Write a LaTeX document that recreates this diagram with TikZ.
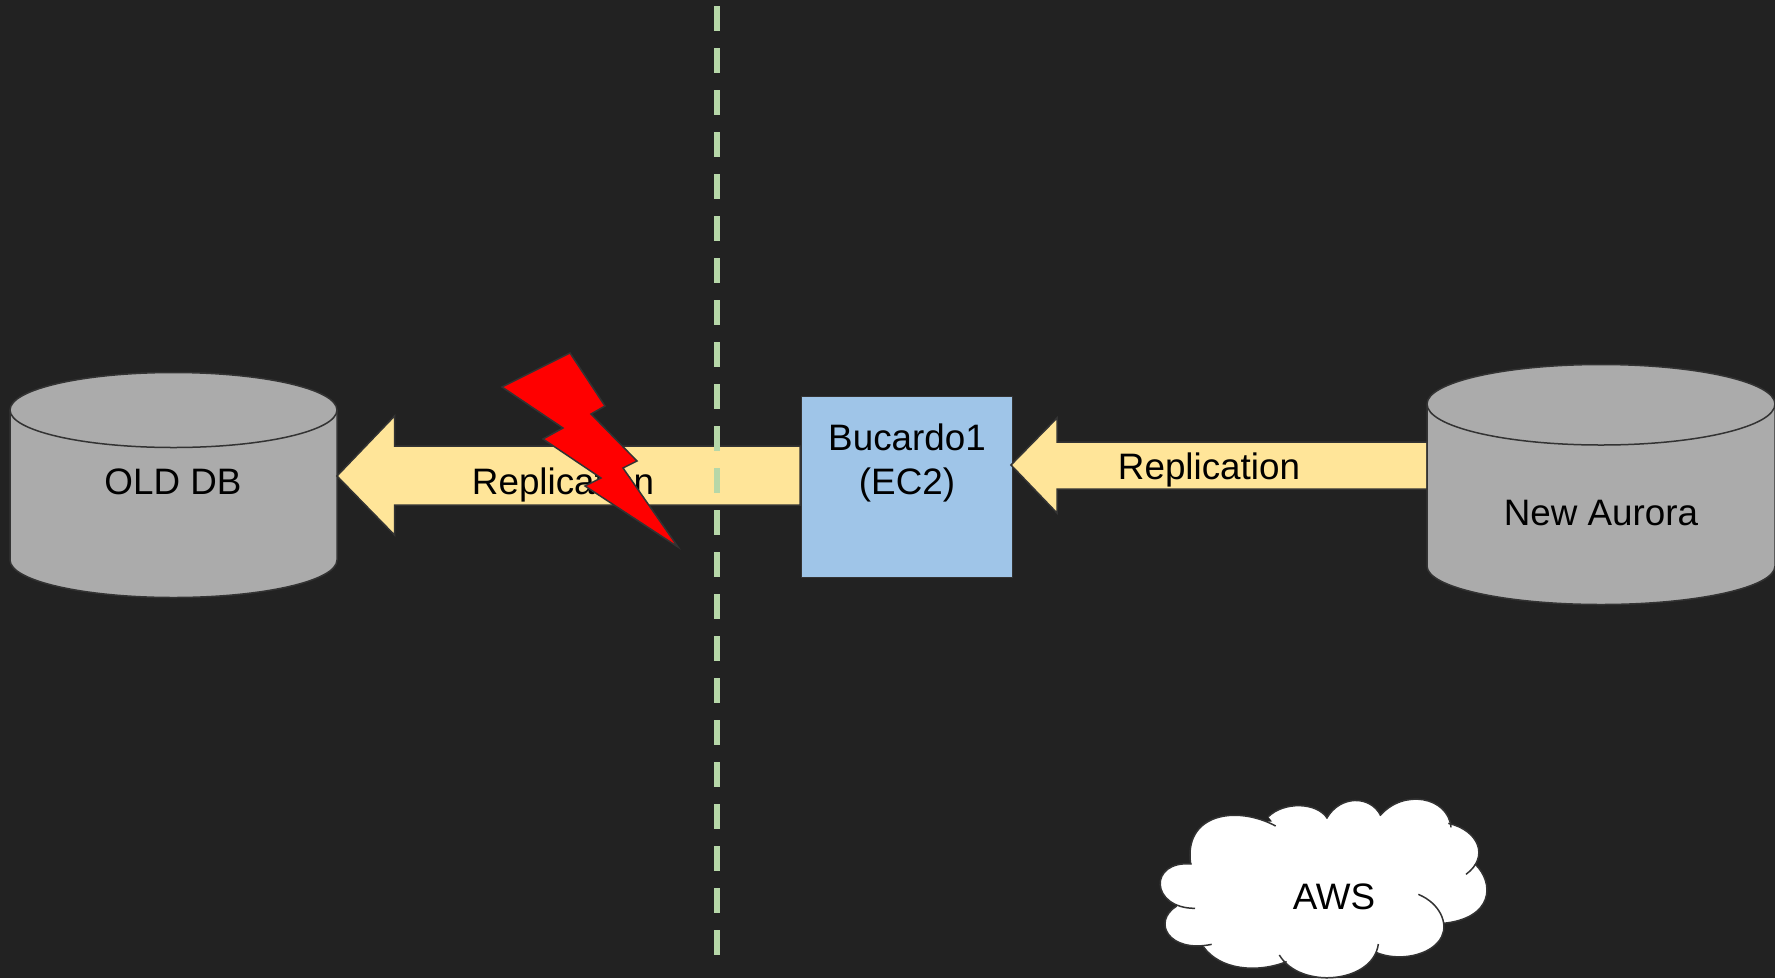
\documentclass[tikz,border=0pt]{standalone}
\usepackage{fontspec}
\setmainfont{Liberation Sans}
\definecolor{bgc}{HTML}{222222}
\definecolor{edgec}{HTML}{333333}
\definecolor{cylc}{HTML}{ABABAB}
\definecolor{arrc}{HTML}{FFE599}
\definecolor{boxc}{HTML}{9FC5E8}
\definecolor{dashc}{HTML}{B6D7A8}
\newcommand\cloudlobes{%
\lobe{(152,252) .. controls (130,100) and (290,75) .. (407,138)}%
\lobe{(385,110) .. controls (430,65) and (530,65) .. (562,115)}%
\lobe{(560,115) .. controls (600,45) and (690,45) .. (722,106)}%
\lobe{(720,107) .. controls (790,25) and (925,50) .. (933,142)}%
\lobe{(925,130) .. controls (1015,150) and (1050,230) .. (978,283)}%
\lobe{(1005,252) .. controls (1065,310) and (1060,415) .. (910,430)}%
\lobe{(835,343) .. controls (900,370) and (925,430) .. (905,470) .. controls (875,530) and (770,545) .. (708,517)}%
\lobe{(715,492) .. controls (700,610) and (480,630) .. (418,525)}%
\lobe{(440,545) .. controls (350,580) and (240,570) .. (190,500)}%
\lobe{(215,493) .. controls (85,520) and (35,425) .. (110,378)}%
\lobe{(165,385) .. controls (30,385) and (25,240) .. (155,252)}%
}
\tikzset{
  shapeline/.style={draw=edgec,line width=1.5pt,line join=round},
  lbl/.style={inner sep=0pt,outer sep=0pt,text=black,font=\fontsize{36.8pt}{44pt}\selectfont},
  cylbody/.style={shapeline,fill=cylc},
  blockarrow/.style={shapeline,fill=arrc,line join=miter},
}
\begin{document}
\begin{tikzpicture}[x=1pt,y=-1pt]
\useasboundingbox (0,0) rectangle (1775,978);
\fill[bgc] (0,0) rectangle (1775,978);
% Old DB
\draw[cylbody] (10,410) arc[start angle=180,end angle=0,x radius=163.5pt,y radius=37.5pt]
  -- (337,560) arc[start angle=0,end angle=-180,x radius=163.5pt,y radius=37.5pt] -- cycle;
\draw[shapeline] (10,410) arc[start angle=180,end angle=360,x radius=163.5pt,y radius=37.5pt];
\node[lbl,anchor=base] (oldlabel) at (173,494) {OLD DB};
% left arrow
\draw[blockarrow] (337,476) -- (394.5,416) -- (394.5,446) -- (800,446) -- (800,505) -- (394.5,505) -- (394.5,535) -- cycle;
\node[lbl,anchor=base] (rep1) at (563,494) {Replication};
% bolt
\draw[shapeline,fill=red,line join=miter] (570,353) -- (605,406) -- (591,414) -- (637,461) -- (623,468) -- (678,547) -- (585,486) -- (601,478) -- (543,439) -- (563,428) -- (502,387) -- cycle;
% dashed divider
\coordinate (dashtop) at (717,6);
\coordinate (dashbot) at (717,955);
\draw[dashc,line width=6.5pt,dash pattern=on 25pt off 17pt] (dashtop) -- (dashbot);
% Bucardo
\node[draw=edgec,line width=0.8pt,fill=boxc,minimum width=211pt,minimum height=181pt,inner sep=0pt,anchor=north west] (buc) at (801,395.5) {};
\node[lbl,align=center] (buclabel) at (907,462.5) {Bucardo1\\(EC2)};
% right arrow
\draw[blockarrow] (1011,465) -- (1057,418) -- (1057,442) -- (1427,442) -- (1427,489) -- (1057,489) -- (1057,513) -- cycle;
\node[lbl,anchor=base] (rep2) at (1209,479) {Replication};
% New Aurora
\draw[cylbody] (1427,404) arc[start angle=180,end angle=0,x radius=174pt,y radius=39.5pt]
  -- (1775,566) arc[start angle=0,end angle=-180,x radius=174pt,y radius=38.5pt] -- cycle;
\draw[shapeline] (1427,404) arc[start angle=180,end angle=360,x radius=174pt,y radius=41pt];
\node[lbl,anchor=base] (newlabel) at (1601,525) {New Aurora};
% cloud
\begin{scope}[shift={(1140,780)},x=0.33333pt,y=-0.33333pt]
\def\lobe#1{\fill[white] #1 -- (550,320) -- cycle;}
\cloudlobes
\fill[white] (152,252) -- (385,125) -- (562,115) -- (722,106) -- (930,135) -- (1000,260) -- (910,430) -- (715,505) -- (425,535) -- (195,500) -- (112,380) -- cycle;
\def\lobe#1{\draw[draw=edgec,line width=1.5pt] #1;}
\cloudlobes
\end{scope}
\node[lbl,anchor=base] (awslabel) at (1334,909) {AWS};
\end{tikzpicture}
\end{document}
